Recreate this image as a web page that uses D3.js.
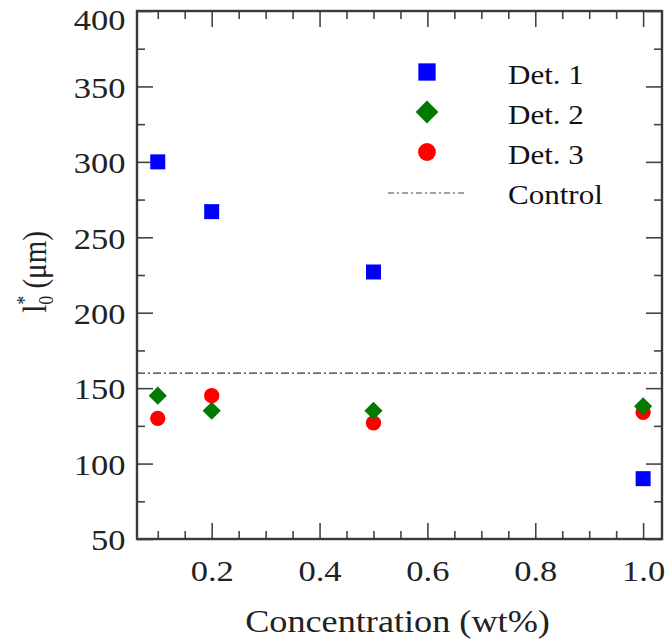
<!DOCTYPE html>
<html>
<head>
<meta charset="utf-8">
<script src="https://cdn.jsdelivr.net/npm/d3@7/dist/d3.min.js"></script>
<style>
  html, body { margin: 0; padding: 0; background: #fff; }
  svg { display: block; font-family: "Liberation Serif", "Times New Roman", serif; }
</style>
</head>
<body>
<svg id="chart"></svg>
<script>
// concentrations (wt%)
const concentrations = [0.1, 0.2, 0.5, 1.0];
// l0* values in um
const det1 = [300, 267, 227, 90];
const det2 = [145, 135, 135, 138];
const det3 = [130, 145, 127, 134];
const controlValue = 160;

const seriesNames = ['Det. 1', 'Det. 2', 'Det. 3'];
const controlName = 'Control';

const xMajorTicks = [0.2, 0.4, 0.6, 0.8, 1.0];
const xMinorTicks = [0.1, 0.15, 0.25, 0.3, 0.35, 0.45, 0.5, 0.55, 0.65, 0.7, 0.75, 0.85, 0.9, 0.95];
const yMajorTicks = [50, 100, 150, 200, 250, 300, 350, 400];
const yMinorTicks = [75, 125, 175, 225, 275, 325, 375];

const width = 667;
const height = 642;
const plotLeft = 137, plotRight = 662, plotTop = 11, plotBottom = 539;
const textStretch = 1.15;
const axisColor = '#3a3a3a';

const svg = d3.select('#chart').attr('width', width).attr('height', height);

const x = d3.scaleLinear().domain([0.0615, 1.035]).range([plotLeft, plotRight]);
const y = d3.scaleLinear().domain([50, 400]).range([plotBottom, plotTop]);

// axes, ticks pointing inward on all four sides
function styleAxis(g) {
  g.select('.domain').remove();
  g.selectAll('line').attr('stroke', '#444').attr('stroke-width', 1.6);
}

svg.append('g')
  .attr('transform', `translate(0,${plotBottom})`)
  .call(d3.axisBottom(x).tickValues(xMinorTicks).tickSize(-8).tickFormat(''))
  .call(styleAxis);
const xAxisG = svg.append('g')
  .attr('transform', `translate(0,${plotBottom})`)
  .call(d3.axisBottom(x).tickValues(xMajorTicks).tickSize(-16).tickPadding(21).tickFormat(d3.format('.1f')))
  .call(styleAxis);
svg.append('g')
  .attr('transform', `translate(0,${plotTop})`)
  .call(d3.axisTop(x).tickValues(xMinorTicks).tickSize(-8).tickFormat(''))
  .call(styleAxis);
svg.append('g')
  .attr('transform', `translate(0,${plotTop})`)
  .call(d3.axisTop(x).tickValues(xMajorTicks).tickSize(-16).tickFormat(''))
  .call(styleAxis);

svg.append('g')
  .attr('transform', `translate(${plotLeft},0)`)
  .call(d3.axisLeft(y).tickValues(yMinorTicks).tickSize(-8).tickFormat(''))
  .call(styleAxis);
const yAxisG = svg.append('g')
  .attr('transform', `translate(${plotLeft},0)`)
  .call(d3.axisLeft(y).tickValues(yMajorTicks).tickSize(-16).tickPadding(10))
  .call(styleAxis);
svg.append('g')
  .attr('transform', `translate(${plotRight},0)`)
  .call(d3.axisRight(y).tickValues(yMinorTicks).tickSize(-8).tickFormat(''))
  .call(styleAxis);
svg.append('g')
  .attr('transform', `translate(${plotRight},0)`)
  .call(d3.axisRight(y).tickValues(yMajorTicks).tickSize(-16).tickFormat(''))
  .call(styleAxis);

[xAxisG, yAxisG].forEach(g => {
  g.selectAll('text')
    .attr('fill', '#222')
    .style('font-family', '"Liberation Serif", serif')
    .style('font-size', '30px')
    .attr('transform', `scale(${textStretch},1)`);
});
// labels centred on their ticks; the top one sits a little lower to stay inside the image
yAxisG.selectAll('text').attr('dy', d => d === 400 ? '0.62em' : '0.36em');

// frame
svg.append('rect')
  .attr('x', plotLeft)
  .attr('y', plotTop)
  .attr('width', plotRight - plotLeft)
  .attr('height', plotBottom - plotTop)
  .attr('fill', 'none')
  .attr('stroke', axisColor)
  .attr('stroke-width', 2.4);

// control line
svg.append('line')
  .attr('x1', plotLeft)
  .attr('x2', plotRight)
  .attr('y1', y(controlValue))
  .attr('y2', y(controlValue))
  .attr('stroke', '#333')
  .attr('stroke-width', 1.2)
  .attr('stroke-dasharray', '8,3,2,3');

// markers
const series = [
  { name: seriesNames[0], values: det1, type: d3.symbolSquare, size: 225, legendSize: 300, color: '#0000ff' },
  { name: seriesNames[1], values: det2, type: d3.symbolDiamond2, size: 210, legendSize: 330, color: '#007a00' },
  { name: seriesNames[2], values: det3, type: d3.symbolCircle, size: 185, legendSize: 250, color: '#ff0000' }
];

// draw circles first, then diamonds, then squares so overlaps match
[series[2], series[1], series[0]].forEach(s => {
  svg.append('g')
    .selectAll('path')
    .data(s.values.map((v, i) => ({ c: concentrations[i], v })))
    .join('path')
    .attr('transform', d => `translate(${x(d.c)},${y(d.v)})`)
    .attr('d', d3.symbol().type(s.type).size(s.size))
    .attr('fill', s.color);
});

// legend
const legend = svg.append('g').attr('transform', 'translate(427,72)');
const rowGap = 40;
series.forEach((s, i) => {
  legend.append('path')
    .attr('transform', `translate(0,${i * rowGap})`)
    .attr('d', d3.symbol().type(s.type).size(s.legendSize))
    .attr('fill', s.color);
  legend.append('text')
    .attr('transform', `translate(81,${i * rowGap + 12}) scale(${textStretch},1)`)
    .attr('fill', '#111')
    .style('font-size', '27px')
    .text(s.name);
});
legend.append('line')
  .attr('x1', -39)
  .attr('x2', 38)
  .attr('y1', 3 * rowGap + 1)
  .attr('y2', 3 * rowGap + 1)
  .attr('stroke', '#444')
  .attr('stroke-width', 1.1)
  .attr('stroke-dasharray', '6,3,2,3');
legend.append('text')
  .attr('transform', `translate(81,${3 * rowGap + 12}) scale(${textStretch},1)`)
  .attr('fill', '#111')
  .style('font-size', '27px')
  .text(controlName);

// axis titles
svg.append('text')
  .attr('transform', `translate(${(plotLeft + plotRight) / 2 - 2},632) scale(${textStretch},1)`)
  .attr('text-anchor', 'middle')
  .attr('fill', '#222')
  .style('font-size', '31.5px')
  .text('Concentration (wt%)');

const yTitle = svg.append('text')
  .attr('transform', `translate(46,272) rotate(-90) scale(1,${textStretch})`)
  .attr('text-anchor', 'middle')
  .attr('fill', '#222')
  .style('font-size', '29px');
yTitle.append('tspan').text('l');
yTitle.append('tspan').attr('dy', -13).style('font-size', '18px').text('*');
yTitle.append('tspan').attr('dx', -9).attr('dy', 19).style('font-size', '18px').text('0');
yTitle.append('tspan').attr('dy', -6).text(' (μm)');
</script>
</body>
</html>
